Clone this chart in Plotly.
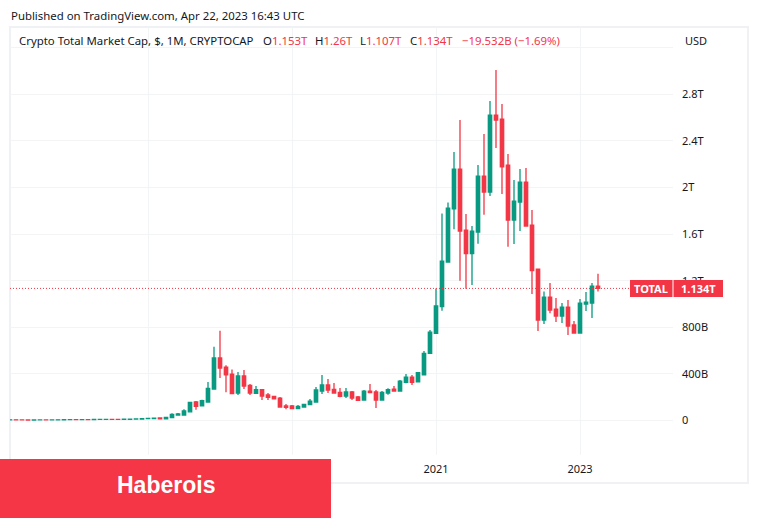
import plotly.graph_objects as go

# Monthly candles: month index 0 = Jan 2015, values in billions of USD
months = list(range(1, 100))
opens = [4.8,5.6,5.0,4.8,4.6,4.9,5.4,4.8,5.0,5.6,8.0,8.4,7.2,8.0,7.0,9.6,9.8,10.6,10.0,9.8,11,12,13,17,
 17,22,15,24,47,47,75,159,125,159,270,537,459,399,236,382,302,233,265,219,207,193,125,125,102,116,136,159,253,305,268,242,210,245,202,176,253,245,176,236,270,253,328,373,331,391,577,
 748,977,1360,1818,2158,1635,1432,1618,2098,1961,2622,2588,2193,1721,1875,2047,1678,1300,862,1060,957,897,974,820,751,1000,1008,1153]
highs = [6.2,6.0,5.4,5.2,5.2,5.8,5.8,5.4,5.8,8.4,8.8,8.8,8.4,8.4,9.8,10.2,11,11,10.4,11.4,12.4,13.4,17.4,19,
 20,27,28,62,64,96,159,167,179,331,634,771,474,439,416,433,313,296,270,236,210,202,142,133,133,142,185,288,391,356,322,279,279,253,210,262,313,262,253,276,296,348,399,391,416,597,777,
 1134,1778,1872,2304,2579,1772,1669,2193,2459,2742,3008,2716,2287,2064,2158,2167,1807,1300,1108,1180,1051,1008,1034,854,1043,1103,1180,1260]
lows = [4.2,4.8,4.4,4.2,4.2,4.6,4.6,4.4,4.8,5.4,7.4,6.8,6.8,6.6,6.8,9.2,9.4,9.6,9.2,9.4,10.6,11.6,12.6,16,
 14,14,14,19,44,44,70,93,122,156,265,365,242,228,219,270,219,228,176,176,182,110,96,96,96,113,133,156,228,236,233,199,193,176,167,173,236,107,173,222,250,250,319,305,328,388,570,
 746,942,1355,1641,1200,1131,1163,1518,1766,1927,2339,1944,1492,1515,1626,1663,1086,768,828,920,845,837,734,748,748,940,880,1107]
closes = [5.6,5.0,4.8,4.6,4.9,5.4,4.8,5.0,5.6,8.0,8.4,7.2,8.0,7.0,9.6,9.8,10.6,10.0,9.8,11,12,13,17,18,
 20,15,27,53,56,82,156,122,170,276,537,451,391,230,382,296,236,265,210,199,185,116,113,102,122,139,167,262,305,262,236,207,245,193,173,253,239,176,242,265,253,339,373,328,411,577,759,
 983,1369,1824,2158,1626,1432,1626,2098,1961,2622,2579,2178,1721,1884,2047,1669,1286,862,1060,948,897,974,811,751,1008,1017,1154,1134]

y_ticks = [0, 400, 800, 1200, 1600, 2000, 2400, 2800, 3200]
y_labels = ["0", "400B", "800B", "1.2T", "1.6T", "2T", "2.4T", "2.8T", ""]
x_ticks = [24, 48, 72, 96]
x_labels = ["", "", "2021", "2023"]
last_close = 1134

GREEN, RED, GRID = "#089981", "#F23645", "#f3f4f6"
FONT = "Noto Sans"
L, R, T, B = 10, 673, 27, 455
def px(x): return (x - L) / (R - L)
def py(y): return (B - y) / (B - T)

fig = go.Figure(go.Candlestick(
    x=months, open=opens, high=highs, low=lows, close=closes,
    increasing=dict(line=dict(color=GREEN, width=1.3), fillcolor=GREEN),
    decreasing=dict(line=dict(color=RED, width=1.3), fillcolor=RED),
    whiskerwidth=0, showlegend=False, hoverinfo="skip"))

def rect(x0, y0, x1, y1, **kw):
    return dict(type="rect", xref="paper", yref="paper", x0=px(x0), x1=px(x1), y0=py(y0), y1=py(y1), **kw)

shapes = [
    rect(10, 27, 748, 483, line=dict(color="#f0f1f4", width=2), fillcolor="rgba(0,0,0,0)", layer="below"),
    dict(type="line", xref="paper", yref="y", x0=0, x1=px(630), y0=last_close, y1=last_close,
         line=dict(color=RED, width=1, dash="1px,2px")),
    rect(630, 280, 672.5, 297, fillcolor=RED, line_width=0),
    rect(673.5, 280, 723, 297, fillcolor=RED, line_width=0),
    rect(0, 459, 331, 518, fillcolor="#F43647", line_width=0),
]

def note(x, y, text, size=11.4, color="#131722", anchor="left", family=FONT):
    return dict(xref="paper", yref="paper", x=px(x), y=py(y), text=text, showarrow=False,
                xanchor=anchor, yanchor="middle", align=anchor,
                font=dict(family=family, size=size, color=color))

v = lambda s: f'<span style="color:{RED}">{s}</span>'
annotations = [
    note(8.5, 15, "Published on TradingView.com, Apr 22, 2023 16:43 UTC"),
    note(17, 41, "Crypto Total Market Cap, $, 1M, CRYPTOCAP"),
    note(261, 41, f"O{v('1.153T')}"),
    note(313, 41, f"H{v('1.26T')}"),
    note(358, 41, f"L{v('1.107T')}"),
    note(408, 41, f"C{v('1.134T')}"),
    note(460, 41, v('−19.532B (−1.69%)')),
    note(683, 41, "USD", size=11),
    note(651, 288.5, "<b>TOTAL</b>", size=11, color="white", anchor="center"),
    note(698, 288.5, "<b>1.134T</b>", size=11, color="white", anchor="center"),
    note(166, 485, "<b>Haberois</b>", size=23, color="white", anchor="center", family="Liberation Sans"),
]

fig.update_layout(
    width=758, height=518, paper_bgcolor="white", plot_bgcolor="white",
    margin=dict(l=L, r=758 - R, t=T, b=518 - B, pad=0),
    font=dict(family=FONT, size=11, color="#131722"),
    shapes=shapes, annotations=annotations, showlegend=False, boxgap=0.2,
    xaxis=dict(range=[1, 111.5], tickmode="array", tickvals=x_ticks, ticktext=x_labels,
               showgrid=True, gridcolor=GRID, gridwidth=1, zeroline=False, ticks="", showline=False,
               rangeslider=dict(visible=False), ticklabelstandoff=6),
    yaxis=dict(range=[-296, 3378], side="right", tickmode="array", tickvals=y_ticks, ticktext=y_labels,
               showgrid=True, gridcolor=GRID, gridwidth=1, zeroline=False, ticks="", showline=False,
               ticklabelstandoff=8),
)
fig.write_html("out.html", config=dict(displayModeBar=False),
               post_script="document.body.style.margin='0';document.body.style.overflow='hidden';")
